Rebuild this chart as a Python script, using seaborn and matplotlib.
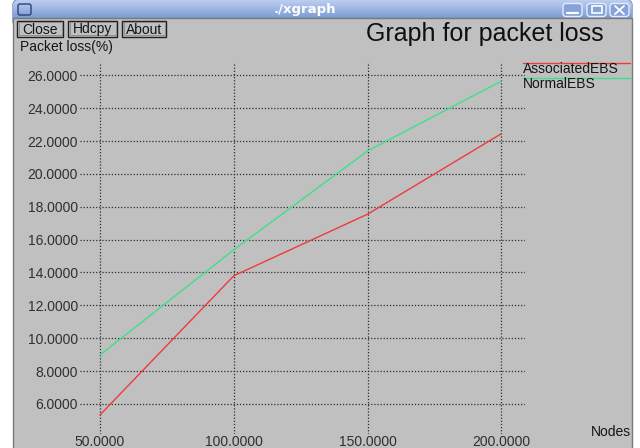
import numpy as np
import pandas as pd
import matplotlib
matplotlib.use("Agg")
import matplotlib.pyplot as plt
import seaborn as sns
from matplotlib.patches import Rectangle, FancyBboxPatch

# Packet loss measurements per node count
nodes = [50, 100, 150, 200]
associated_ebs = [5.33, 13.80, 17.55, 22.45]
normal_ebs = [8.98, 15.38, 21.40, 25.65]
series_names = ["AssociatedEBS", "NormalEBS"]
series_colors = ["#ee3b3b", "#3ee08a"]
x_ticks = [50, 100, 150, 200]
y_ticks = [6, 8, 10, 12, 14, 16, 18, 20, 22, 24, 26]
window_title = "./xgraph"
chart_title = "Graph for packet loss"
y_label = "Packet loss(%)"
x_label = "Nodes"
buttons = ["Close", "Hdcpy", "About"]

W, H = 640, 448
sns.set_theme(style="white")
plt.rcParams["font.family"] = ["Liberation Sans", "DejaVu Sans"]

fig = plt.figure(figsize=(W / 100, H / 100), dpi=100, facecolor="white")

# Window frame drawn in pixel coordinates
chrome = fig.add_axes([0, 0, 1, 1], zorder=0)
chrome.set_xlim(0, W)
chrome.set_ylim(H, 0)
chrome.axis("off")

bar = FancyBboxPatch((13, 0), 619, 26, boxstyle="round,pad=0,rounding_size=5",
                     fc="none", ec="#4a6aa8", lw=0.8)
chrome.add_patch(bar)
grad = np.linspace(0, 1, 64).reshape(-1, 1)
top = np.array([0.74, 0.81, 0.94])
bot = np.array([0.47, 0.60, 0.83])
img = top + (bot - top) * grad[..., None]
im = chrome.imshow(img, extent=[13, 632, 19, 0], aspect="auto", zorder=1)
im.set_clip_path(bar)

chrome.add_patch(Rectangle((13, 18.5), 619, 440, fc="#c0c0c0", ec="#7a7a7a",
                           lw=1.0, zorder=2))

chrome.text(305, 10, window_title, color="white", fontsize=9.5,
            fontweight="bold", family="DejaVu Sans", ha="center", va="center",
            zorder=3)
chrome.add_patch(FancyBboxPatch((18, 4), 13, 11, boxstyle="round,pad=0,rounding_size=2",
                                fc="none", ec="#2c3f7c", lw=1.0, zorder=3))
for bx in (563, 587, 610):
    chrome.add_patch(FancyBboxPatch((bx, 3.5), 19, 13, boxstyle="round,pad=0,rounding_size=3",
                                    fc="#86a2da", ec="#e4ecfa", lw=1.0, zorder=3))
chrome.plot([567, 578], [13, 13], color="white", lw=1.6, zorder=4)
chrome.add_patch(Rectangle((591.5, 6.5), 10, 7, fc="none", ec="white", lw=1.2, zorder=4))
chrome.plot([615, 624], [6, 14], color="white", lw=1.3, zorder=4)
chrome.plot([615, 624], [14, 6], color="white", lw=1.3, zorder=4)

bx = 17
for name, bw in zip(buttons, [46, 49, 44]):
    chrome.add_patch(Rectangle((bx, 21), bw, 16, fc="#c0c0c0", ec="#202020", lw=1.0, zorder=3))
    chrome.add_patch(Rectangle((bx + 1.5, 22.5), bw - 3, 13, fc="none", ec="#8a8a8a", lw=0.6, zorder=3))
    chrome.text(bx + bw / 2, 29.5, name, fontsize=10, color="#151515",
                ha="center", va="center", zorder=4)
    bx += bw + 5

chrome.text(485, 34, chart_title, fontsize=18, color="#101010",
            ha="center", va="center", zorder=3)
chrome.text(20, 47, y_label, fontsize=10, color="#151515",
            ha="left", va="center", zorder=3)
chrome.text(631, 432, x_label, fontsize=10, color="#151515",
            ha="right", va="center", zorder=3)

# Legend: colour line above each series name
for i, (name, col) in enumerate(zip(series_names, series_colors)):
    ly = 63.3 + 15 * i
    chrome.plot([523, 630], [ly, ly], color=col, lw=1.0, zorder=3)
    chrome.text(523, ly + 6, name, fontsize=10, color="#151515",
                ha="left", va="center", zorder=3)

# Plot area
ax = fig.add_axes([80 / W, 1 - 434 / H, (525 - 80) / W, (434 - 62) / H], zorder=1)
ax.set_facecolor("none")

df = pd.DataFrame({
    "Nodes": nodes * 2,
    "Loss": associated_ebs + normal_ebs,
    "Series": [series_names[0]] * len(nodes) + [series_names[1]] * len(nodes),
})
sns.lineplot(data=df, x="Nodes", y="Loss", hue="Series", hue_order=series_names,
             palette=series_colors, linewidth=1.0, legend=False, ax=ax, zorder=3)

ax.set_xlim(42.53, 208.8)
ax.set_ylim(4.17, 26.81)
ax.set_xticks(x_ticks)
ax.set_yticks(y_ticks)
ax.set_xticklabels([f"{v:.4f}" for v in x_ticks])
ax.set_yticklabels([f"{v:.4f}" for v in y_ticks])
ax.tick_params(axis="both", length=0, labelsize=10, colors="#303030")
ax.tick_params(axis="y", pad=1.5)
ax.tick_params(axis="x", pad=1.0)
ax.set_xlabel("")
ax.set_ylabel("")
for s in ax.spines.values():
    s.set_visible(False)
ax.grid(True, color="#2e2e2e", linestyle=(0, (1, 1.5)), linewidth=0.9)
ax.set_axisbelow(True)

fig.savefig("out.png", dpi=100, facecolor="white")
